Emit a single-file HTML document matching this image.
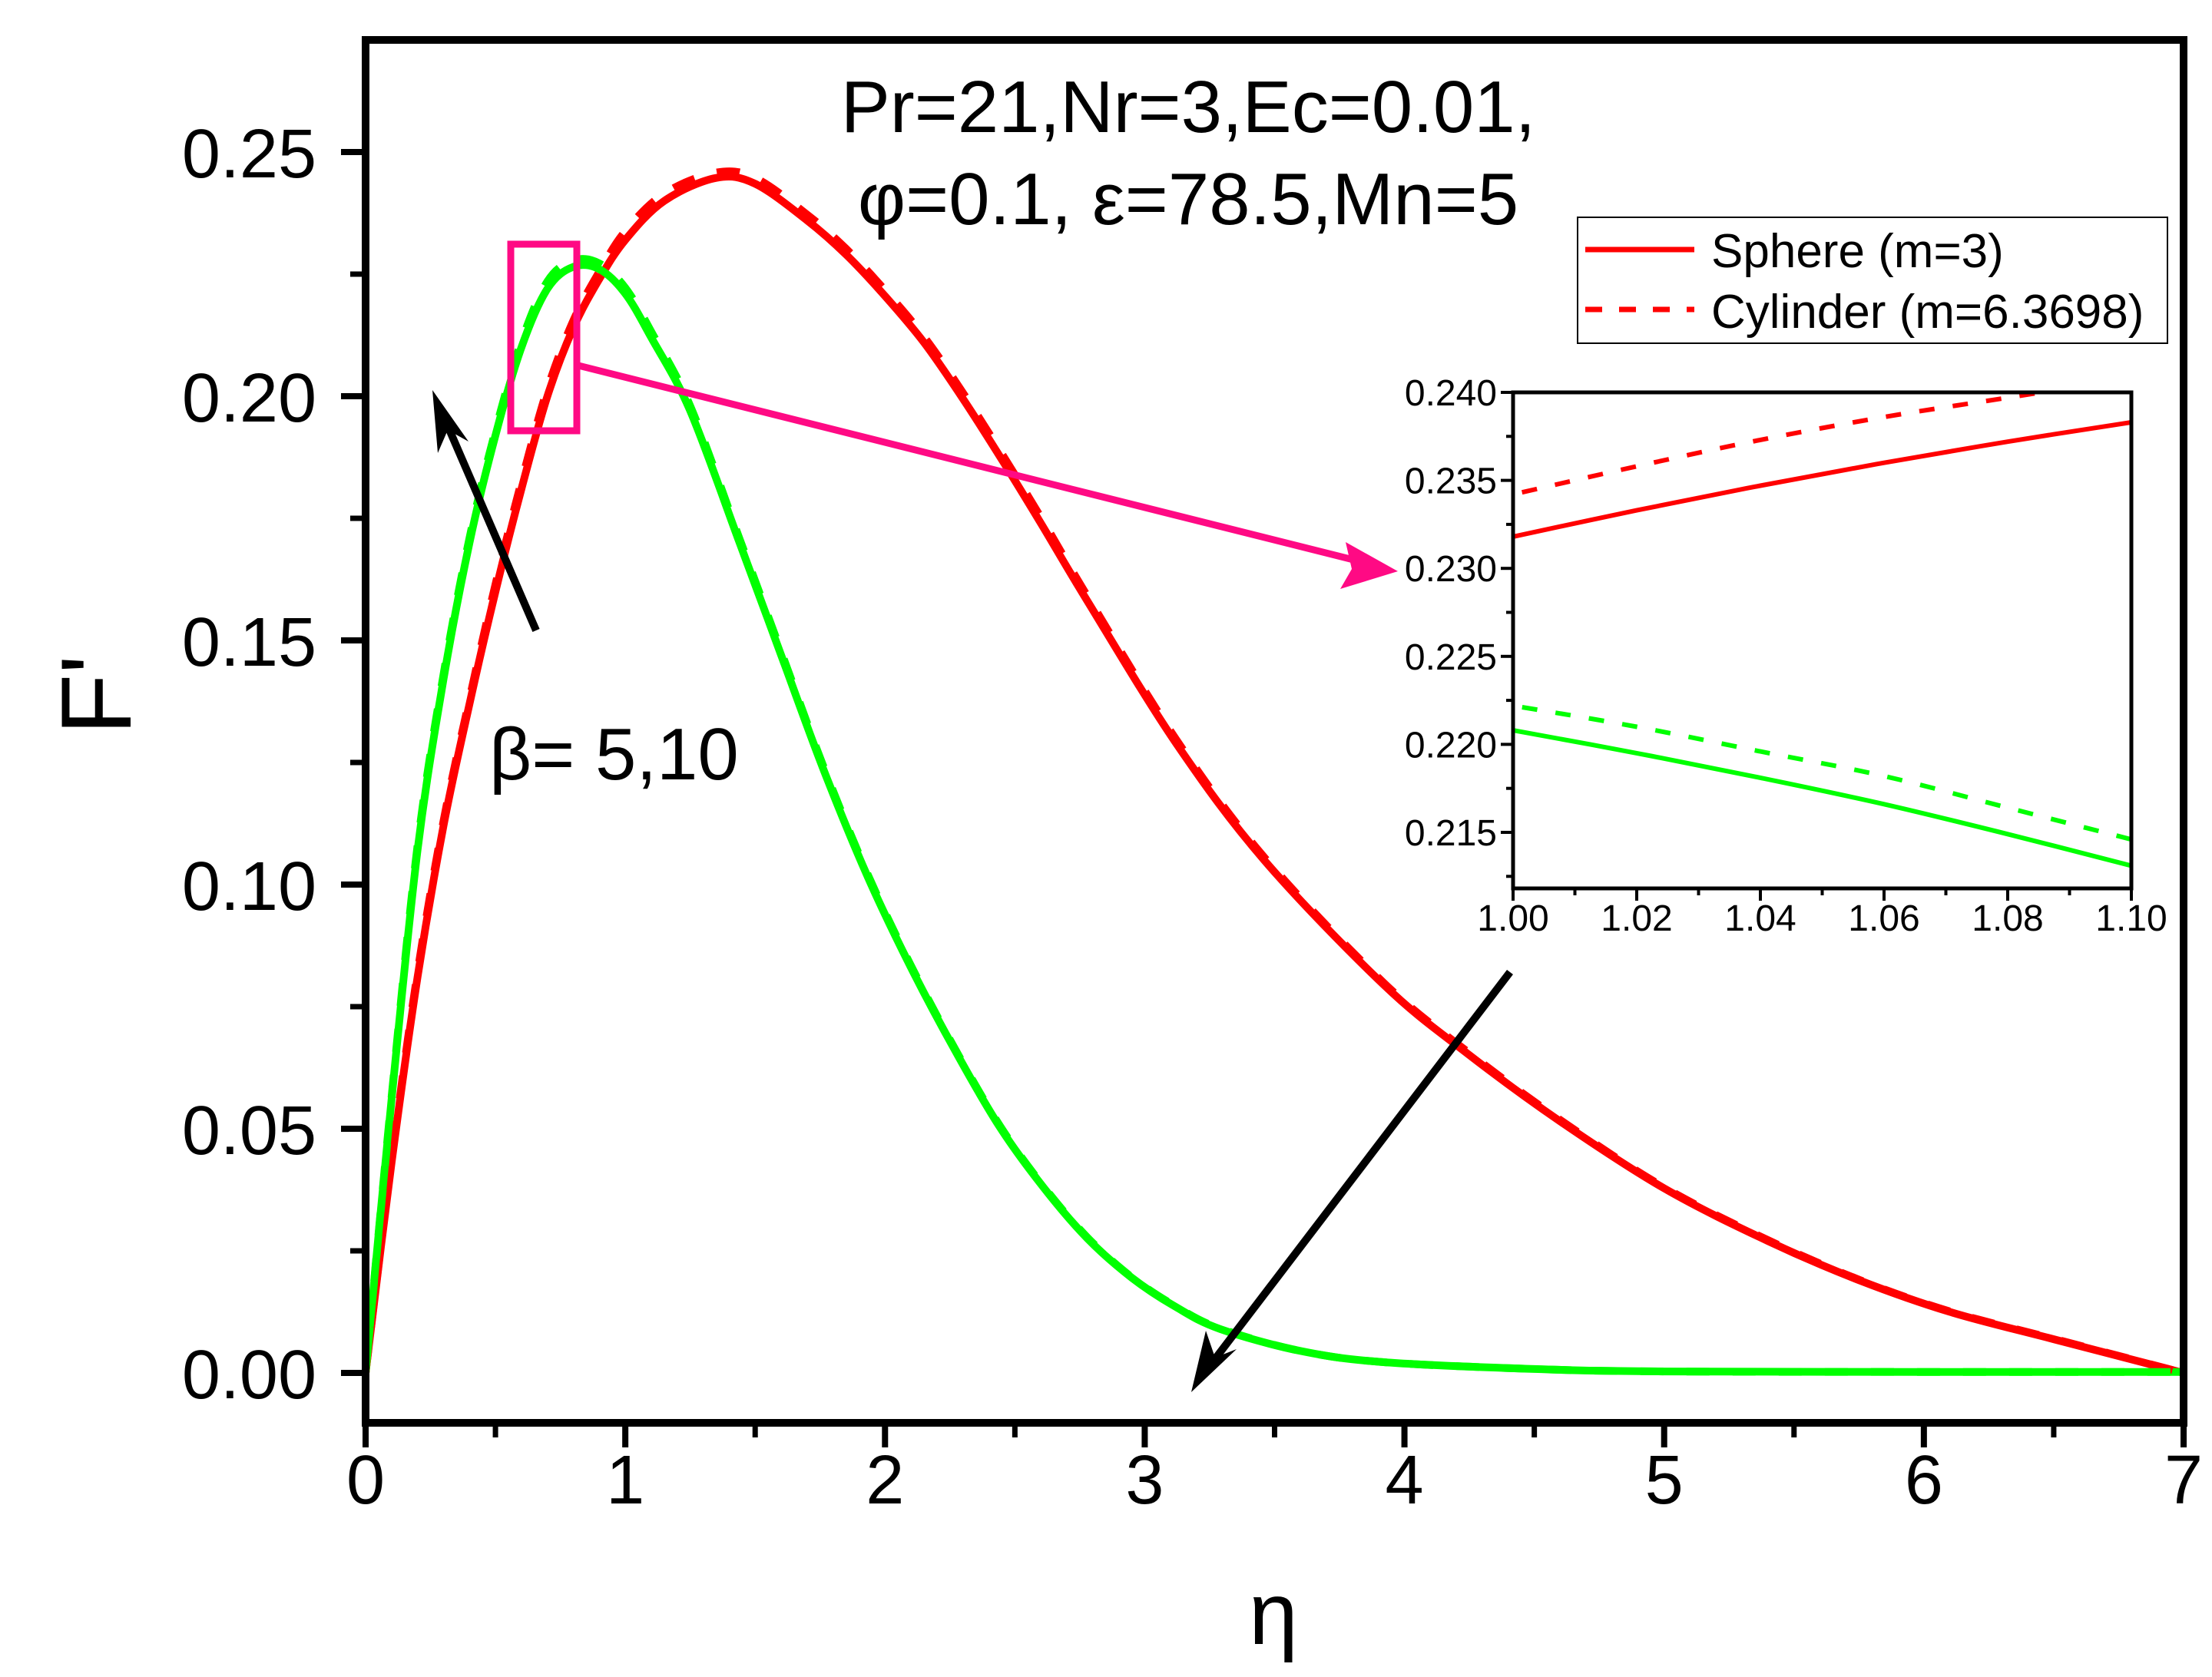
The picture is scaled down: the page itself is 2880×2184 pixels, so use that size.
<!DOCTYPE html>
<html><head><meta charset="utf-8"><style>
html,body{margin:0;padding:0;background:#fff;}
svg{display:block;font-family:"Liberation Sans",Arial,sans-serif;}
</style></head><body>
<svg id="chart" width="2880" height="2184" viewBox="0 0 2880 2184" xmlns="http://www.w3.org/2000/svg">
<defs>
<clipPath id="mainClip"><rect x="476" y="52" width="2367" height="1801"/></clipPath>
<clipPath id="insetClip"><rect x="1970" y="511" width="805" height="646"/></clipPath>
</defs>
<rect width="2880" height="2184" fill="#fff"/>
<g id="main"></g>
<g id="inset"></g>
<g>
<rect x="2054" y="283" width="768" height="164" fill="#fff" stroke="#000" stroke-width="2"/>
<line x1="2064" y1="325" x2="2206" y2="325" stroke="#ff0000" stroke-width="7"/>
<text x="2228" y="348" font-size="62">Sphere (m=3)</text>
<line x1="2064" y1="403" x2="2206" y2="403" stroke="#ff0000" stroke-width="7" stroke-dasharray="22,22"/>
<text x="2228" y="427" font-size="62">Cylinder (m=6.3698)</text>
</g>
<text x="1547" y="172" font-size="96" text-anchor="middle">Pr=21,Nr=3,Ec=0.01,</text>
<text x="1547" y="292" font-size="96" text-anchor="middle">φ=0.1, ε=78.5,Mn=5</text>
<text x="637" y="1015" font-size="96">β= 5,10</text>
<text x="1658" y="2141" font-size="115" text-anchor="middle">η</text>
<text x="0" y="0" font-size="130" text-anchor="middle" transform="translate(170,905) rotate(-90)">F'</text>
<g>
<rect x="665" y="318" width="86" height="243" fill="none" stroke="#ff0a84" stroke-width="9"/>
<line x1="753" y1="476" x2="1770" y2="731" stroke="#ff0a84" stroke-width="9"/>
<polygon points="1820,744 1752,706 1760,741 1745,767" fill="#ff0a84"/>
<line x1="698" y1="821" x2="580" y2="548" stroke="#000" stroke-width="10"/>
<polygon points="563,508 570,590 583,560 610,575" fill="#000"/>
<line x1="1966" y1="1266" x2="1578" y2="1775" stroke="#000" stroke-width="10"/>
<polygon points="1551,1813 1570,1733 1582,1768 1610,1757" fill="#000"/>
</g>
</svg>
<script>
// ---- main chart data ----
const redEta = [0,0.1,0.2,0.3,0.4,0.5,0.6,0.7,0.8,0.9,1.0,1.15,1.35,1.5,1.7,1.85,2.0,2.15,2.3,2.45,2.6,2.78,3.12,3.46,3.92,4.24,4.6,5.0,5.4,5.75,6.1,6.5,7.0];
const redSphere = [0,0.043,0.081,0.112,0.137,0.160,0.181,0.200,0.214,0.224,0.232,0.240,0.2447,0.2435,0.236,0.229,0.2205,0.211,0.1995,0.187,0.174,0.158,0.129,0.105,0.0795,0.0655,0.0515,0.0378,0.027,0.019,0.0125,0.0069,0];
const redCylinder = [0,0.0435,0.082,0.113,0.138,0.1615,0.1825,0.2015,0.2155,0.2255,0.2338,0.2415,0.2458,0.2447,0.2372,0.2302,0.2217,0.2122,0.2007,0.1882,0.1752,0.159,0.1298,0.1056,0.0799,0.0659,0.0518,0.038,0.0272,0.0191,0.0126,0.007,0];
const greenEta = [0,0.1,0.2,0.3,0.4,0.5,0.6,0.7,0.8,0.9,1.0,1.1,1.25,1.44,1.6,1.76,1.93,2.1,2.27,2.44,2.61,2.78,2.95,3.12,3.29,3.6,3.92,4.5,5.0,6.0,7.0];
const greenSphere = [0,0.056,0.107,0.142,0.170,0.192,0.210,0.222,0.2265,0.226,0.221,0.212,0.197,0.170,0.147,0.124,0.102,0.083,0.066,0.0505,0.038,0.0275,0.0195,0.0135,0.009,0.0045,0.0022,0.0008,0.0003,0.0002,0.0002];
const greenCylinder = [0,0.0565,0.108,0.143,0.171,0.193,0.2112,0.2235,0.2278,0.2272,0.2222,0.2132,0.198,0.1708,0.1477,0.1246,0.1025,0.0834,0.0663,0.0508,0.0382,0.0277,0.0196,0.0136,0.0091,0.0045,0.0022,0.0008,0.0003,0.0002,0.0002];
const xTicks = [0,1,2,3,4,5,6,7];
const xTickLabels = ["0","1","2","3","4","5","6","7"];
const yTicks = [0,0.05,0.10,0.15,0.20,0.25];
const yTickLabels = ["0.00","0.05","0.10","0.15","0.20","0.25"];
// ---- inset data ----
const insetX = [1.00,1.02,1.04,1.06,1.08,1.10];
const insetRedSphere = [0.2318,0.2333,0.2347,0.2360,0.2372,0.2383];
const insetRedCylinder = [0.2342,0.2358,0.2373,0.2386,0.2397,0.2408];
const insetGreenSphere = [0.2208,0.2195,0.2181,0.2166,0.2149,0.2131];
const insetGreenCylinder = [0.2222,0.2210,0.2196,0.2182,0.2164,0.2146];
const insetXTicks = [1.00,1.02,1.04,1.06,1.08,1.10];
const insetXTickLabels = ["1.00","1.02","1.04","1.06","1.08","1.10"];
const insetYTicks = [0.215,0.220,0.225,0.230,0.235,0.240];
const insetYTickLabels = ["0.215","0.220","0.225","0.230","0.235","0.240"];

const NS = "http://www.w3.org/2000/svg";
function mk(parent, tag, attrs){ const e=document.createElementNS(NS,tag); for(const k in attrs) e.setAttribute(k,attrs[k]); parent.appendChild(e); return e; }
function smoothD(xs, ys, fx, fy){
  const p = xs.map((x,i)=>[fx(x), fy(ys[i])]);
  let d = 'M'+p[0][0].toFixed(1)+','+p[0][1].toFixed(1);
  for(let i=0;i<p.length-1;i++){
    const p0=p[Math.max(i-1,0)], p1=p[i], p2=p[i+1], p3=p[Math.min(i+2,p.length-1)];
    const c1=[p1[0]+(p2[0]-p0[0])/6, p1[1]+(p2[1]-p0[1])/6];
    const c2=[p2[0]-(p3[0]-p1[0])/6, p2[1]-(p3[1]-p1[1])/6];
    d += ' C'+c1[0].toFixed(1)+','+c1[1].toFixed(1)+' '+c2[0].toFixed(1)+','+c2[1].toFixed(1)+' '+p2[0].toFixed(1)+','+p2[1].toFixed(1);
  }
  return d;
}

// main axes
const X0=476,X1=2843,Y0=1788,PXU=6360;
const sx = v => X0 + (v-0)/7*(X1-X0);
const sy = v => Y0 - v*PXU;
const main = document.getElementById('main');
const series = [
 [redEta, redSphere, '#ff0000', null, 'red-sphere-curve'],
 [greenEta, greenSphere, '#00ff00', null, 'green-sphere-curve'],
 [redEta, redCylinder, '#ff0000', '30,30', 'red-cylinder-curve'],
 [greenEta, greenCylinder, '#00ff00', '30,30', 'green-cylinder-curve']
];
const cg = mk(main,'g',{'clip-path':'url(#mainClip)'});
for(const s of series){
  const p = mk(cg,'path',{d:smoothD(s[0],s[1],sx,sy),fill:'none',stroke:s[2],'stroke-width':10,'stroke-linejoin':'round'});
  if(s[3]) p.setAttribute('stroke-dasharray',s[3]);
  
  
}
const frame = mk(main,'rect',{x:X0,y:52,width:X1-X0,height:1853-52,fill:'none',stroke:'#000','stroke-width':10});


for(let i=0;i<xTicks.length;i++){
  const x=sx(xTicks[i]);
  const t = mk(main,'line',{x1:x,y1:1853,x2:x,y2:1885,stroke:'#000','stroke-width':8});
  
  
  if(i<xTicks.length-1){ const xm=sx(xTicks[i]+0.5); const m=mk(main,'line',{x1:xm,y1:1853,x2:xm,y2:1872,stroke:'#000','stroke-width':7});   }
  const lb = mk(main,'text',{x:x,y:1958,'font-size':90,'text-anchor':'middle'});
  lb.textContent = xTickLabels[i];
  
  
}
for(let i=0;i<yTicks.length;i++){
  const y=sy(yTicks[i]);
  const t = mk(main,'line',{x1:X0,y1:y,x2:X0-32,y2:y,stroke:'#000','stroke-width':8});
  
  
  if(i<yTicks.length-1){
    const ym=sy(yTicks[i]+0.025);
    const m=mk(main,'line',{x1:X0,y1:ym,x2:X0-20,y2:ym,stroke:'#000','stroke-width':7});
    
    
  }
  const lb = mk(main,'text',{x:412,y:y+33,'font-size':90,'text-anchor':'end'});
  lb.textContent = yTickLabels[i];
  
  
}

// inset axes
const IX0=1970,IX1=2775,IYT=511,IYB=1157;
const ix = v => IX0 + (v-1.00)/0.10*(IX1-IX0);
const iy = v => IYT + (0.240-v)/0.005*114.6;
const inset = document.getElementById('inset');
const bg = mk(inset,'rect',{x:IX0,y:IYT,width:IX1-IX0,height:IYB-IYT,fill:'#fff'});


const ig = mk(inset,'g',{'clip-path':'url(#insetClip)'});
const iseries = [
 [insetRedSphere,'#ff0000',null,'inset-red-sphere'],
 [insetRedCylinder,'#ff0000','20,24','inset-red-cylinder'],
 [insetGreenSphere,'#00ff00',null,'inset-green-sphere'],
 [insetGreenCylinder,'#00ff00','20,24','inset-green-cylinder']
];
for(const s of iseries){
  const p = mk(ig,'path',{d:smoothD(insetX,s[0],ix,iy),fill:'none',stroke:s[1],'stroke-width':6});
  if(s[2]){ p.setAttribute('stroke-dasharray',s[2]); p.setAttribute('stroke-dashoffset','-12'); }
  
  
}
const iframe = mk(inset,'rect',{x:IX0,y:IYT,width:IX1-IX0,height:IYB-IYT,fill:'none',stroke:'#000','stroke-width':5});


for(let i=0;i<insetXTicks.length;i++){
  const x=ix(insetXTicks[i]);
  const t=mk(inset,'line',{x1:x,y1:IYB,x2:x,y2:IYB+16,stroke:'#000','stroke-width':4});
  
  
  if(i<insetXTicks.length-1){ const xm=ix(insetXTicks[i]+0.01); const m=mk(inset,'line',{x1:xm,y1:IYB,x2:xm,y2:IYB+9,stroke:'#000','stroke-width':4});   }
  const lb=mk(inset,'text',{x:x,y:1212,'font-size':48,'text-anchor':'middle'});
  lb.textContent=insetXTickLabels[i];
  
  
}
for(let i=0;i<insetYTicks.length;i++){
  const y=iy(insetYTicks[i]);
  const t=mk(inset,'line',{x1:IX0,y1:y,x2:IX0-16,y2:y,stroke:'#000','stroke-width':4});
  
  
  const ym=iy(insetYTicks[i]-0.0025);
  const m=mk(inset,'line',{x1:IX0,y1:ym,x2:IX0-9,y2:ym,stroke:'#000','stroke-width':4});
  
  
  const lb=mk(inset,'text',{x:1949,y:y+17,'font-size':48,'text-anchor':'end'});
  lb.textContent=insetYTickLabels[i];
  
  
}
</script>
</body></html>
